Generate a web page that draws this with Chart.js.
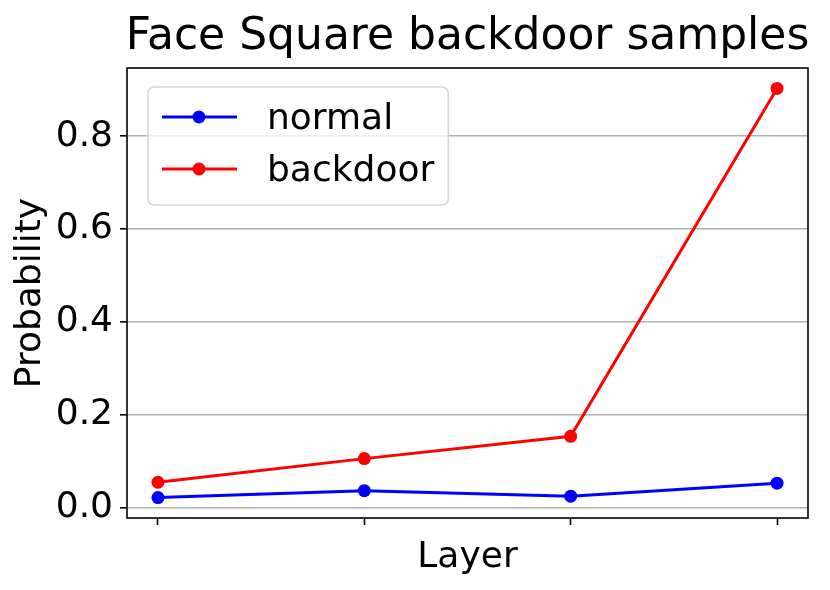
<!DOCTYPE html>
<html>
<head>
<meta charset="utf-8">
<script src="https://cdn.jsdelivr.net/npm/chart.js@4.4.0/dist/chart.umd.min.js"></script>
<style>
  body { margin: 0; background: #fff; }
  #wrap { width: 830px; height: 590px; }
</style>
</head>
<body>
<div id="wrap"><canvas id="myChart" width="830" height="590"></canvas></div>
<script>
const titleText = 'Face Square backdoor samples';
const layers = [0, 1, 2, 3];
const normal = [0.021, 0.036, 0.024, 0.052];
const backdoor = [0.054, 0.105, 0.153, 0.903];
const yTicks = [0.0, 0.2, 0.4, 0.6, 0.8];

const FONT = '"DejaVu Sans", sans-serif';

// frame, title and a matplotlib-like legend inside the axes
const mplExtras = {
  id: 'mplExtras',
  afterDraw(chart) {
    const { ctx, chartArea: a } = chart;
    ctx.save();
    ctx.strokeStyle = '#000';
    ctx.lineWidth = 1.6;
    ctx.strokeRect(a.left, a.top, a.right - a.left, a.bottom - a.top);

    ctx.fillStyle = '#000';
    ctx.font = '44px ' + FONT;
    ctx.textAlign = 'center';
    ctx.textBaseline = 'alphabetic';
    ctx.fillText(titleText, (a.left + a.right) / 2, a.top - 19);

    // legend
    ctx.font = '36px ' + FONT;
    const sets = chart.data.datasets;
    const bx = a.left + 21, by = a.top + 19;
    const textX = bx + 119;
    let maxW = 0;
    sets.forEach(ds => { maxW = Math.max(maxW, ctx.measureText(ds.label).width); });
    const bw = textX + maxW + 14 - bx, bh = 118;
    ctx.beginPath();
    ctx.roundRect(bx, by, bw, bh, 6);
    ctx.fillStyle = 'rgba(255,255,255,0.8)';
    ctx.fill();
    ctx.strokeStyle = 'rgba(204,204,204,0.8)';
    ctx.lineWidth = 1.6;
    ctx.stroke();

    sets.forEach((ds, i) => {
      const cy = by + 30 + i * 52;
      ctx.strokeStyle = ds.borderColor;
      ctx.lineWidth = 3;
      ctx.beginPath();
      ctx.moveTo(bx + 14, cy);
      ctx.lineTo(bx + 89, cy);
      ctx.stroke();
      ctx.fillStyle = ds.borderColor;
      ctx.beginPath();
      ctx.arc(bx + 51, cy, 6.5, 0, Math.PI * 2);
      ctx.fill();
      ctx.fillStyle = '#000';
      ctx.textAlign = 'left';
      ctx.textBaseline = 'alphabetic';
      ctx.fillText(ds.label, textX, cy + 12);
    });
    ctx.restore();
  }
};

const data = {
  datasets: [{
    label: 'normal',
    data: layers.map((x, i) => ({ x: x, y: normal[i] })),
    borderColor: '#0000ff',
    backgroundColor: '#0000ff',
  }, {
    label: 'backdoor',
    data: layers.map((x, i) => ({ x: x, y: backdoor[i] })),
    borderColor: '#ff0000',
    backgroundColor: '#ff0000',
  }]
};

const config = {
  type: 'line',
  data: data,
  plugins: [mplExtras],
  options: {
    responsive: false,
    animation: false,
    layout: { padding: { top: 68, right: 22, left: 0, bottom: 0 } },
    elements: {
      line: { borderWidth: 3, tension: 0 },
      point: { radius: 6.5, borderWidth: 0, hoverRadius: 6.5 }
    },
    plugins: {
      legend: { display: false },
      tooltip: { enabled: false },
      title: { display: false }
    },
    scales: {
      x: {
        type: 'linear',
        min: -0.15,
        max: 3.15,
        afterBuildTicks: s => { s.ticks = layers.map(v => ({ value: v })); },
        afterFit: s => { s.height = 72; },
        ticks: { callback: () => '' },
        grid: { drawOnChartArea: false, tickLength: 7, tickColor: '#000', tickWidth: 1.6 },
        border: { display: false },
        title: {
          display: true,
          text: 'Layer',
          color: '#000',
          font: { family: FONT, size: 36 },
          padding: { top: 0, bottom: 11 }
        }
      },
      y: {
        min: -0.023,
        max: 0.947,
        afterBuildTicks: s => { s.ticks = yTicks.map(v => ({ value: v })); },
        afterFit: s => { s.width = 127; },
        ticks: {
          color: '#000',
          font: { family: FONT, size: 36 },
          padding: 7,
          callback: v => v.toFixed(1)
        },
        grid: { color: '#b0b0b0', lineWidth: 1.6, tickLength: 7, tickColor: '#000', tickWidth: 1.6 },
        border: { display: false },
        title: {
          display: true,
          text: 'Probability',
          color: '#000',
          font: { family: FONT, size: 36 },
          padding: { top: 9, bottom: 0 }
        }
      }
    }
  }
};

const myChart = new Chart(document.getElementById('myChart'), config);
</script>
</body>
</html>
